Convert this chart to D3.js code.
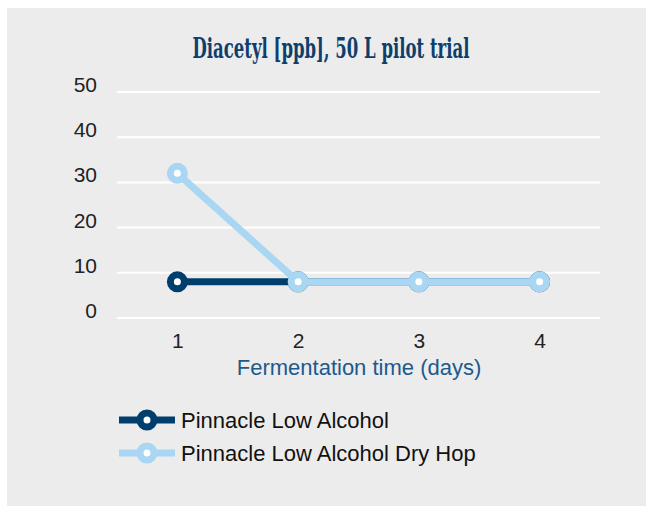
<!DOCTYPE html>
<html>
<head>
<meta charset="utf-8">
<script src="https://cdn.jsdelivr.net/npm/d3@7"></script>
<style>
	body { margin: 0; background: #fff; }
	svg { display: block; }
</style>
</head>
<body>
<svg width="646" height="506"></svg>
<script>
	var days = [1, 2, 3, 4];
	var yTicks = [0, 10, 20, 30, 40, 50];
	var lowAlcohol = [8, 8, 8, 8];
	var lowAlcoholDryHop = [32, 8, 8, 8];
	var seriesNames = ["Pinnacle Low Alcohol", "Pinnacle Low Alcohol Dry Hop"];
	var seriesColors = ["#003e6d", "#a9d6f3"];

	var svg = d3.select("svg");

	svg.append("rect")
		.attr("x", 7).attr("y", 8)
		.attr("width", 639).attr("height", 498)
		.style("fill", "#ececec");

	var x = d3.scalePoint().domain(days).range([117, 600]).padding(0.5);
	var y = d3.scaleLinear().domain([0, 50]).range([318, 92]);

	// grid lines
	svg.append("g")
		.selectAll("line")
		.data(yTicks)
		.enter().append("line")
		.attr("x1", 117).attr("x2", 600)
		.attr("y1", function(d) { return y(d); })
		.attr("y2", function(d) { return y(d); })
		.style("stroke", "#fff")
		.style("stroke-width", 2);

	var yAxis = svg.append("g")
		.attr("transform", "translate(97,0)")
		.call(d3.axisLeft(y).tickValues(yTicks).tickSize(0).tickPadding(0));
	yAxis.select(".domain").remove();
	yAxis.selectAll("text")
		.attr("dy", "-0.02em")
		.style("font-family", "Liberation Sans, Arial, sans-serif")
		.style("font-size", "21px")
		.style("fill", "#222");

	var xAxis = svg.append("g")
		.attr("transform", "translate(0,332)")
		.call(d3.axisBottom(x).tickSize(0).tickPadding(0));
	xAxis.select(".domain").remove();
	xAxis.selectAll("text")
		.attr("dy", "0.75em")
		.style("font-family", "Liberation Sans, Arial, sans-serif")
		.style("font-size", "21px")
		.style("fill", "#222");

	svg.append("text")
		.attr("x", 359).attr("y", 375)
		.attr("text-anchor", "middle")
		.style("font-family", "Liberation Sans, Arial, sans-serif")
		.style("font-size", "22px")
		.style("fill", "#1d5a8c")
		.text("Fermentation time (days)");

	svg.append("text")
		.attr("x", 331).attr("y", 58)
		.attr("text-anchor", "middle")
		.attr("textLength", 277)
		.attr("lengthAdjust", "spacingAndGlyphs")
		.style("font-family", "DejaVu Serif Condensed, DejaVu Serif, serif")
		.style("font-weight", "bold")
		.style("font-size", "28px")
		.style("fill", "#0e3f6c")
		.text("Diacetyl [ppb], 50 L pilot trial");

	var line = d3.line()
		.x(function(d, i) { return x(days[i]); })
		.y(function(d) { return y(d); });

	[lowAlcohol, lowAlcoholDryHop].forEach(function(values, s) {
		var g = svg.append("g");
		g.append("path")
			.datum(values)
			.attr("d", line)
			.style("fill", "none")
			.style("stroke", seriesColors[s])
			.style("stroke-width", 7);
		g.selectAll("circle")
			.data(values)
			.enter().append("circle")
			.attr("cx", function(d, i) { return x(days[i]); })
			.attr("cy", function(d) { return y(d); })
			.attr("r", 7)
			.style("fill", "#fff")
			.style("stroke", seriesColors[s])
			.style("stroke-width", 7);
	});

	// legend
	var legend = svg.append("g")
		.selectAll("g")
		.data(seriesNames)
		.enter().append("g")
		.attr("transform", function(d, i) { return "translate(0," + (420 + i * 33) + ")"; });
	legend.append("line")
		.attr("x1", 119).attr("x2", 175)
		.style("stroke", function(d, i) { return seriesColors[i]; })
		.style("stroke-width", 7);
	legend.append("circle")
		.attr("cx", 147).attr("r", 7)
		.style("fill", "#fff")
		.style("stroke", function(d, i) { return seriesColors[i]; })
		.style("stroke-width", 7);
	legend.append("text")
		.attr("x", 181).attr("dy", "0.35em")
		.style("font-family", "Liberation Sans, Arial, sans-serif")
		.style("font-size", "22px")
		.style("fill", "#111")
		.text(function(d) { return d; });
</script>
</body>
</html>
